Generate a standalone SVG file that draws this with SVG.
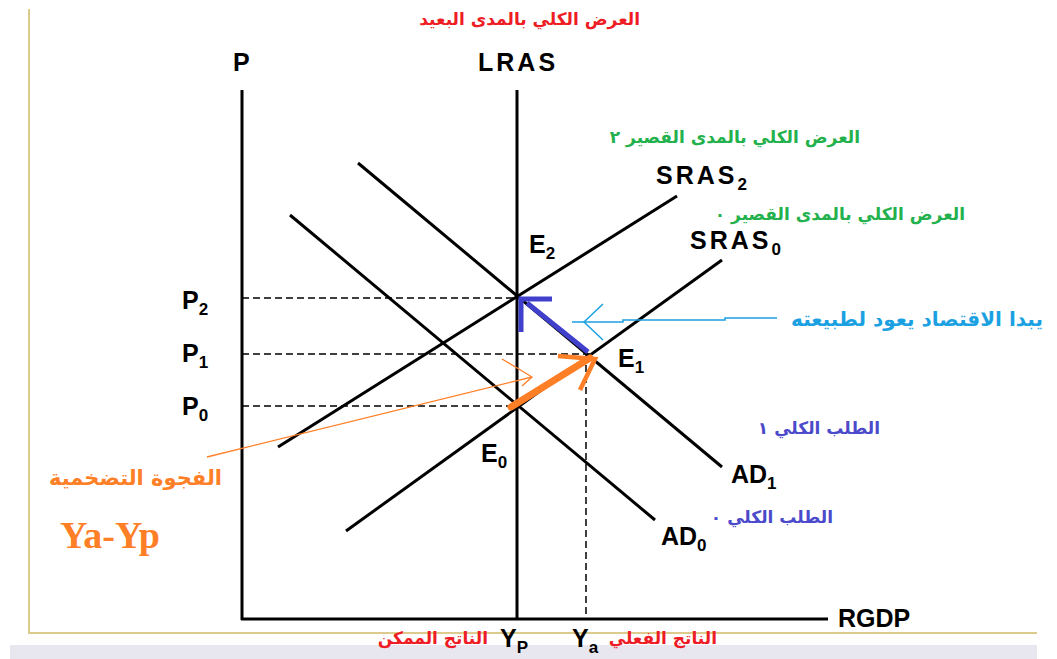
<svg xmlns="http://www.w3.org/2000/svg" width="1057" height="659" viewBox="0 0 1057 659">
<style>
.lbl{font-family:"Liberation Sans",Arial,sans-serif;font-weight:bold;font-size:25px;fill:#000}
.sub{font-size:17px}
.ar{font-family:"DejaVu Sans","Noto Sans",sans-serif;font-weight:bold;direction:rtl}
.crv{stroke:#000;stroke-width:3;fill:none}
.dash{stroke:#000;stroke-width:1.5;stroke-dasharray:7 4;fill:none}
</style>
<rect width="1057" height="659" fill="#fff"/>
<g id="frame">
<rect x="10" y="645" width="1027" height="14" fill="#e8e6ee"/>
<polyline points="29,9 29,633 1037,633" fill="none" stroke="#dccb8c" stroke-width="2"/>
</g>
<g id="guides">
<line class="dash" x1="242" y1="298" x2="517" y2="298"/>
<line class="dash" x1="242" y1="354" x2="590" y2="354"/>
<line class="dash" x1="242" y1="406" x2="517" y2="406"/>
<line class="dash" x1="586" y1="354" x2="586" y2="619"/>
</g>
<g id="axes">
<line class="crv" x1="242" y1="90" x2="242" y2="620"/>
<line class="crv" x1="241" y1="619" x2="828" y2="619"/>
</g>
<g id="curves">
<line id="LRAS" class="crv" x1="517" y1="90" x2="517" y2="619"/>
<line id="AD1" class="crv" x1="358" y1="163" x2="722" y2="467"/>
<line id="AD0" class="crv" x1="290" y1="215" x2="655" y2="520"/>
<line id="SRAS2" class="crv" x1="278" y1="447" x2="677" y2="196"/>
<line id="SRAS0" class="crv" x1="346" y1="531" x2="722" y2="260"/>
</g>
<g id="connectors">
<g id="blue-arrow" stroke="#4040cc" stroke-width="5" fill="none">
<line x1="588" y1="352" x2="527" y2="303"/>
<polyline points="552,299 521,299 521,332"/>
</g>
<g id="orange-arrow" stroke="#ff7f27" fill="none">
<line x1="511" y1="407" x2="590" y2="358" stroke-width="7" stroke-linecap="round"/>
<polyline points="558,356 595,359 580,390" stroke-width="4.5"/>
</g>
<g id="orange-pointer" stroke="#ff7f27" stroke-width="1.3" fill="none">
<line x1="207" y1="457" x2="532" y2="377"/>
<polyline points="502,359 532,377 522,386"/>
</g>
<g id="cyan-pointer" stroke="#1ba1e2" stroke-width="1.5" fill="none">
<polyline points="572,322 623,322 623,320 725,320 725,318 777,318"/>
<polyline points="603,304 584,322 603,340"/>
</g>
</g>
<g id="labels">
<text class="lbl" x="233" y="71">P</text>
<text class="lbl" x="478" y="71" letter-spacing="3">LRAS</text>
<text class="lbl" x="656" y="184" letter-spacing="3">SRAS<tspan class="sub" dy="6" letter-spacing="0">2</tspan></text>
<text class="lbl" x="690" y="249" letter-spacing="3">SRAS<tspan class="sub" dy="6" letter-spacing="0">0</tspan></text>
<text class="lbl" x="529" y="253">E<tspan class="sub" dy="6">2</tspan></text>
<text class="lbl" x="618" y="367">E<tspan class="sub" dy="6">1</tspan></text>
<text class="lbl" x="481" y="462">E<tspan class="sub" dy="6">0</tspan></text>
<text class="lbl" x="182" y="309">P<tspan class="sub" dy="6">2</tspan></text>
<text class="lbl" x="182" y="362">P<tspan class="sub" dy="6">1</tspan></text>
<text class="lbl" x="182" y="415">P<tspan class="sub" dy="6">0</tspan></text>
<text class="lbl" x="731" y="483">AD<tspan class="sub" dy="6">1</tspan></text>
<text class="lbl" x="661" y="545">AD<tspan class="sub" dy="6">0</tspan></text>
<text class="lbl" x="838" y="627">RGDP</text>
<text class="lbl" x="500" y="647">Y<tspan class="sub" dy="6">P</tspan></text>
<text class="lbl" x="572" y="647">Y<tspan class="sub" dy="6">a</tspan></text>
</g>
<g id="arabic-labels">
<text class="ar" x="640" y="25" font-size="17" fill="#ee1c24">العرض الكلي بالمدى البعيد</text>
<text class="ar" x="860" y="143" font-size="17" fill="#22b14c">العرض الكلي بالمدى القصير ٢</text>
<text class="ar" x="965" y="220" font-size="17" fill="#22b14c">العرض الكلي بالمدى القصير ٠</text>
<text class="ar" x="880" y="434" font-size="17" fill="#4a4acb">الطلب الكلي ١</text>
<text class="ar" x="833" y="523" font-size="17" fill="#4a4acb">الطلب الكلي ٠</text>
<text class="ar" x="1043" y="326" font-size="20" fill="#1ba1e2">يبدا الاقتصاد يعود لطبيعته</text>
<text class="ar" x="222" y="485" font-size="21" fill="#ff7f27">الفجوة التضخمية</text>
<text class="ar" x="488" y="644" font-size="17" fill="#ee1c24">الناتج الممكن</text>
<text class="ar" x="717" y="644" font-size="17" fill="#ee1c24">الناتج الفعلي</text>
<text x="60" y="548" font-family="Liberation Serif,Times New Roman,serif" font-weight="bold" font-size="38" fill="#ff7f27">Ya-Yp</text>
</g>
</svg>
